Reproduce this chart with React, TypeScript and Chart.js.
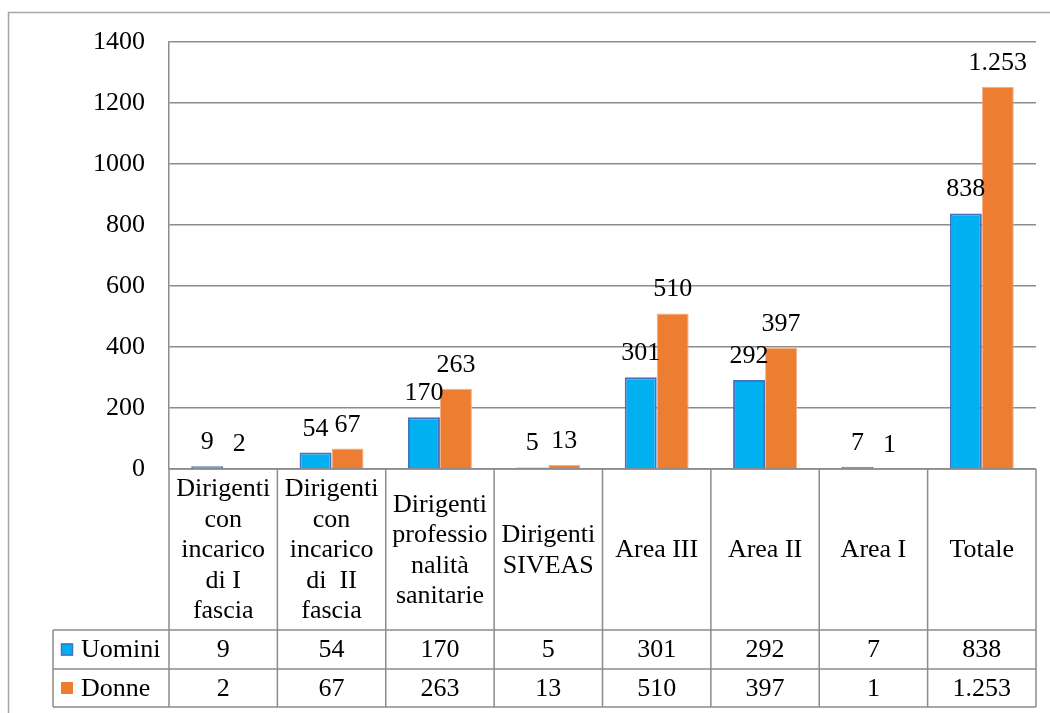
import React, { useEffect, useRef } from "react";
import { Chart, registerables } from "chart.js";

Chart.register(...registerables);

const categoryLines: string[][] = [
  ["Dirigenti", "con", "incarico", "di I", "fascia"],
  ["Dirigenti", "con", "incarico", "di  II", "fascia"],
  ["Dirigenti", "professio", "nalità", "sanitarie"],
  ["Dirigenti", "SIVEAS"],
  ["Area III"],
  ["Area II"],
  ["Area I"],
  ["Totale"],
];
const seriesNames = ["Uomini", "Donne"];
const uomini = [9, 54, 170, 5, 301, 292, 7, 838];
const donne = [2, 67, 263, 13, 510, 397, 1, 1253];

const FONT = "'Liberation Serif', 'Times New Roman', serif";
const BLUE = "#00B0F0";
const BLUE_BORDER = "#4472C4";
const ORANGE = "#ED7D31";
const ORANGE_BORDER = "#F4B183";
const LINE = "#8C8C8C";

function fmt(v: number): string {
  const s = String(v);
  return s.replace(/\B(?=(\d{3})+(?!\d))/g, ".");
}

const tablePlugin = {
  id: "tablePlugin",
  afterDraw(chart: any) {
    const ctx = chart.ctx as CanvasRenderingContext2D;
    const { left, right, bottom } = chart.chartArea;
    const n = categoryLines.length;
    const w = (right - left) / n;
    const catBottom = 630;
    const row1Bottom = 669;
    const row2Bottom = 707;
    const legendLeft = 53;

    ctx.save();
    // outer frame
    ctx.strokeStyle = "#A6A6A6";
    ctx.lineWidth = 1.5;
    ctx.beginPath();
    ctx.moveTo(8.5, 713);
    ctx.lineTo(8.5, 12.5);
    ctx.lineTo(1050, 12.5);
    ctx.stroke();

    ctx.strokeStyle = LINE;
    ctx.lineWidth = 1.5;
    ctx.beginPath();
    ctx.moveTo(left, bottom);
    ctx.lineTo(right, bottom);
    ctx.moveTo(legendLeft, catBottom);
    ctx.lineTo(right, catBottom);
    ctx.moveTo(legendLeft, row1Bottom);
    ctx.lineTo(right, row1Bottom);
    ctx.moveTo(legendLeft, row2Bottom);
    ctx.lineTo(right, row2Bottom);
    ctx.moveTo(legendLeft, catBottom);
    ctx.lineTo(legendLeft, row2Bottom);
    for (let i = 0; i <= n; i++) {
      const x = left + i * w;
      ctx.moveTo(x, bottom);
      ctx.lineTo(x, row2Bottom);
    }
    ctx.stroke();

    ctx.fillStyle = "#000";
    ctx.font = `26px ${FONT}`;
    ctx.textAlign = "center";
    ctx.textBaseline = "middle";
    const lh = 30.5;
    const catMid = (bottom + catBottom) / 2 + 1;
    categoryLines.forEach((lines, i) => {
      const cx = left + (i + 0.5) * w;
      const y0 = catMid - ((lines.length - 1) * lh) / 2;
      lines.forEach((t, j) => ctx.fillText(t, cx, y0 + j * lh));
    });

    const r1 = (catBottom + row1Bottom) / 2 + 1;
    const r2 = (row1Bottom + row2Bottom) / 2 + 1;
    uomini.forEach((v, i) => ctx.fillText(fmt(v), left + (i + 0.5) * w, r1));
    donne.forEach((v, i) => ctx.fillText(fmt(v), left + (i + 0.5) * w, r2));

    // legend keys
    ctx.fillStyle = BLUE;
    ctx.fillRect(61, r1 - 7, 12, 12);
    ctx.strokeStyle = BLUE_BORDER;
    ctx.lineWidth = 1.5;
    ctx.strokeRect(61.5, r1 - 6.5, 11, 11);
    ctx.fillStyle = ORANGE;
    ctx.fillRect(61, r2 - 7, 12, 12);
    ctx.fillStyle = "#000";
    ctx.textAlign = "left";
    ctx.fillText(seriesNames[0], 81, r1);
    ctx.fillText(seriesNames[1], 81, r2);

    ctx.restore();
  },
  afterDatasetsDraw(chart: any) {
    const ctx = chart.ctx as CanvasRenderingContext2D;
    ctx.save();
    ctx.fillStyle = "#000";
    ctx.font = `26px ${FONT}`;
    ctx.textAlign = "center";
    ctx.textBaseline = "alphabetic";
    chart.data.datasets.forEach((ds: any, di: number) => {
      const meta = chart.getDatasetMeta(di);
      meta.data.forEach((el: any, i: number) => {
        ctx.fillText(fmt(ds.data[i]), el.x, el.y - 17);
      });
    });
    ctx.restore();
  },
};

export default function App() {
  const ref = useRef<HTMLCanvasElement | null>(null);
  useEffect(() => {
    document.body.style.margin = "0";
    document.body.style.overflow = "hidden";
    const canvas = ref.current;
    if (!canvas) return;
    const chart = new Chart(canvas, {
      type: "bar",
      data: {
        labels: categoryLines.map((l) => l.join(" ")),
        datasets: [
          {
            label: seriesNames[0],
            data: uomini,
            backgroundColor: BLUE,
            borderColor: BLUE_BORDER,
            borderWidth: 2,
            categoryPercentage: 0.59,
            barPercentage: 1,
          },
          {
            label: seriesNames[1],
            data: donne,
            backgroundColor: ORANGE,
            borderColor: ORANGE_BORDER,
            borderWidth: 1,
            categoryPercentage: 0.59,
            barPercentage: 1,
          },
        ],
      },
      options: {
        animation: false,
        responsive: false,
        devicePixelRatio: 1,
        layout: { padding: { top: 42, right: 14, bottom: 0, left: 0 } },
        plugins: {
          legend: { display: false },
          tooltip: { enabled: false },
        },
        scales: {
          x: {
            grid: { display: false },
            border: { display: false },
            ticks: { display: false },
            afterFit: (scale: any) => {
              scale.height = 713 - 469;
            },
          },
          y: {
            min: 0,
            max: 1400,
            ticks: {
              stepSize: 200,
              color: "#000",
              font: { family: FONT, size: 26 },
              padding: 24,
              callback: (v: any) => String(v),
            },
            grid: { color: LINE, lineWidth: 1.5, drawTicks: false },
            border: { color: LINE, width: 1.5 },
            afterFit: (scale: any) => {
              scale.width = 169;
            },
          },
        },
      },
      plugins: [tablePlugin],
    });
    return () => chart.destroy();
  }, []);
  return (
    <canvas
      ref={ref}
      width={1050}
      height={713}
      style={{ display: "block", width: 1050, height: 713 }}
    />
  );
}
